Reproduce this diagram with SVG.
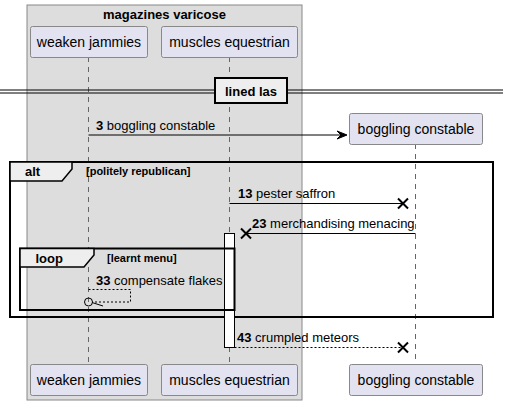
<svg xmlns="http://www.w3.org/2000/svg" width="508" height="405" viewBox="0 0 508 405">
<style>
.p{fill:#E2E2F0;stroke:#888;stroke-width:1}
.pt{font-family:"Liberation Sans",Arial,sans-serif;font-size:14px;fill:#000;text-anchor:middle}
.ll{stroke:#666;stroke-width:1;stroke-dasharray:5,5}
.m{font-family:"Liberation Sans",Arial,sans-serif;font-size:13px;fill:#000}
.b{font-weight:bold}
.fr{fill:none;stroke:#000;stroke-width:2}
.tab{fill:#EEEEEE;stroke:#000;stroke-width:1.5}
.ft{font-family:"Liberation Sans",Arial,sans-serif;font-size:13px;font-weight:bold;fill:#000}
.gd{font-family:"Liberation Sans",Arial,sans-serif;font-size:11px;font-weight:bold;fill:#000}
.ar{stroke:#000;stroke-width:1;fill:none}
.da{stroke:#000;stroke-width:1;fill:none;stroke-dasharray:2,2}
.x{stroke:#000;stroke-width:2}
</style>
<g id="box-magazines-varicose">
<rect x="27" y="5" width="275" height="395" fill="#DDDDDD" stroke="#888" stroke-width="1"/>
<text x="164.5" y="19" class="ft" text-anchor="middle">magazines varicose</text>
</g>
<g id="lifelines">
<line class="ll" x1="88.5" y1="57" x2="88.5" y2="364"/>
<line class="ll" x1="229.5" y1="57" x2="229.5" y2="364"/>
<line class="ll" x1="415.5" y1="144" x2="415.5" y2="364"/>
</g>
<g id="divider">
<line x1="0" y1="90" x2="503" y2="90" stroke="#000" stroke-width="1"/>
<line x1="0" y1="93" x2="503" y2="93" stroke="#000" stroke-width="1"/>
<rect x="215" y="78" width="72" height="25" fill="#EEEEEE" stroke="#000" stroke-width="2"/>
<text x="251" y="96" class="ft" text-anchor="middle">lined las</text>
</g>
<g id="p-weaken-jammies">
<rect class="p" x="30.5" y="26.5" width="117" height="31" rx="2"/>
<text class="pt" x="89" y="47">weaken jammies</text>
<rect class="p" x="30.5" y="364.5" width="117" height="31" rx="2"/>
<text class="pt" x="89" y="385">weaken jammies</text>
</g>
<g id="p-muscles-equestrian">
<rect class="p" x="161.5" y="26.5" width="136" height="31" rx="2"/>
<text class="pt" x="229.5" y="47">muscles equestrian</text>
<rect class="p" x="161.5" y="364.5" width="136" height="31" rx="2"/>
<text class="pt" x="229.5" y="385">muscles equestrian</text>
</g>
<g id="p-boggling-constable">
<rect class="p" x="349.5" y="113.5" width="133" height="31" rx="2"/>
<text class="pt" x="416" y="134">boggling constable</text>
<rect class="p" x="349.5" y="364.5" width="133" height="31" rx="2"/>
<text class="pt" x="416" y="385">boggling constable</text>
</g>
<g id="frame-alt">
<rect class="fr" x="10" y="162" width="483" height="155"/>
<path class="tab" d="M10,162 H72 V169 L62,181 H10 Z"/>
<text class="ft" x="25" y="176">alt</text>
<text class="gd" x="86" y="175">[politely republican]</text>
</g>
<g id="activation">
<rect x="224.5" y="233.5" width="10" height="114" fill="#FFFFFF" stroke="#000" stroke-width="1"/>
</g>
<g id="frame-loop">
<rect class="fr" x="20" y="248.5" width="214.5" height="61.5"/>
<path class="tab" d="M20,248.5 H94 V255 L84,267 H20 Z"/>
<text class="ft" x="35.5" y="263">loop</text>
<text class="gd" x="107" y="262">[learnt menu]</text>
</g>
<g id="connectors">
<line class="ar" x1="88.5" y1="135" x2="345" y2="135"/>
<polygon points="347,135 337,131 341,135 337,139" fill="#000" stroke="#000" stroke-width="1"/>
<text class="m" x="96" y="130"><tspan class="b">3</tspan> boggling constable</text>

<line class="ar" x1="229.5" y1="203.5" x2="403" y2="203.5"/>
<path class="x" d="M398,198.5 L408,208.5 M398,208.5 L408,198.5"/>
<text class="m" x="238" y="198"><tspan class="b">13</tspan> pester saffron</text>

<line class="ar" x1="415.5" y1="233.5" x2="246" y2="233.5"/>
<path class="x" d="M241,228.5 L251,238.5 M241,238.5 L251,228.5"/>
<text class="m" x="252" y="228"><tspan class="b">23</tspan> merchandising menacing</text>

<polyline class="da" points="88.5,289.5 130.5,289.5 130.5,302 92.5,302"/>
<circle cx="88.5" cy="302" r="4" fill="none" stroke="#000" stroke-width="1"/>
<line class="ar" x1="92" y1="302.5" x2="103" y2="306"/>
<text class="m" x="96" y="285"><tspan class="b">33</tspan> compensate flakes</text>

<line class="da" x1="234.5" y1="347.5" x2="403" y2="347.5"/>
<path class="x" d="M398,342.5 L408,352.5 M398,352.5 L408,342.5"/>
<text class="m" x="237" y="342"><tspan class="b">43</tspan> crumpled meteors</text>
</g>
</svg>
